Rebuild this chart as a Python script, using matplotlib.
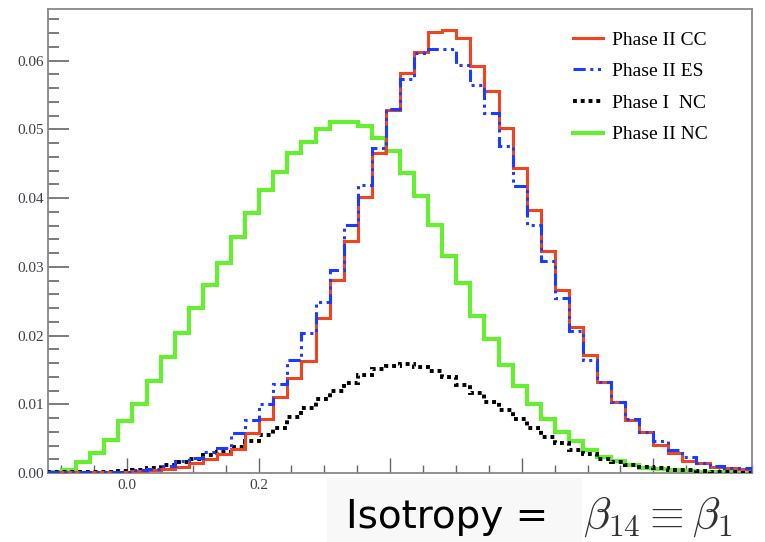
import numpy as np
import matplotlib
matplotlib.use("Agg")
import matplotlib.pyplot as plt
from matplotlib.patches import Rectangle
from matplotlib.ticker import MultipleLocator, FormatStrFormatter

# histogram binning (50 bins over the plotted range)
xmin, xmax, nbins = -0.12, 0.95, 50

# bin contents, left to right
phase2_cc = [0.0001, 0.0001, 0.0001, 0.0001, 0.0001, 0.0002, 0.0003, 0.0004, 0.0006, 0.0009,
             0.0014, 0.0021, 0.0028, 0.0035, 0.0058, 0.0078, 0.0110, 0.0138, 0.0163, 0.0225,
             0.0281, 0.0338, 0.0402, 0.0465, 0.0528, 0.0582, 0.0612, 0.0641, 0.0645, 0.0633,
             0.0592, 0.0555, 0.0502, 0.0444, 0.0383, 0.0323, 0.0266, 0.0212, 0.0172, 0.0133,
             0.0104, 0.0077, 0.0059, 0.0041, 0.0029, 0.0018, 0.0014, 0.0009, 0.0008, 0.0006]
phase2_es = [0.0001, 0.0001, 0.0001, 0.0001, 0.0001, 0.0002, 0.0004, 0.0006, 0.0010, 0.0017,
             0.0022, 0.0030, 0.0037, 0.0058, 0.0077, 0.0100, 0.0130, 0.0164, 0.0203, 0.0249,
             0.0295, 0.0361, 0.0419, 0.0473, 0.0529, 0.0573, 0.0611, 0.0617, 0.0617, 0.0594,
             0.0565, 0.0524, 0.0475, 0.0417, 0.0361, 0.0308, 0.0254, 0.0206, 0.0165, 0.0133,
             0.0104, 0.0079, 0.0060, 0.0046, 0.0033, 0.0024, 0.0015, 0.0010, 0.0008, 0.0007]
phase1_nc = [0.0001, 0.0001, 0.0001, 0.0002, 0.0002, 0.0003, 0.0004, 0.0007, 0.0011, 0.0016,
             0.0021, 0.0026, 0.0031, 0.0038, 0.0046, 0.0055, 0.0066, 0.0081, 0.0095, 0.0107,
             0.0120, 0.0131, 0.0143, 0.0151, 0.0156, 0.0158, 0.0154, 0.0149, 0.0140, 0.0128,
             0.0117, 0.0104, 0.0091, 0.0078, 0.0065, 0.0053, 0.0043, 0.0034, 0.0027, 0.0021,
             0.0016, 0.0012, 0.0009, 0.0007, 0.0005, 0.0004, 0.0003, 0.0002, 0.0002, 0.0001]
phase2_nc = [0.0002, 0.0004, 0.0016, 0.0029, 0.0048, 0.0075, 0.0101, 0.0134, 0.0169, 0.0203,
             0.0240, 0.0274, 0.0306, 0.0344, 0.0378, 0.0412, 0.0438, 0.0466, 0.0481, 0.0500,
             0.0510, 0.0510, 0.0505, 0.0487, 0.0468, 0.0436, 0.0403, 0.0361, 0.0315, 0.0277,
             0.0229, 0.0195, 0.0157, 0.0127, 0.0101, 0.0078, 0.0060, 0.0046, 0.0034, 0.0024,
             0.0017, 0.0012, 0.0008, 0.0006, 0.0004, 0.0003, 0.0002, 0.0002, 0.0001, 0.0001]

labels = ["Phase II CC", "Phase II ES", "Phase I  NC", "Phase II NC"]
yticks = [0.00, 0.01, 0.02, 0.03, 0.04, 0.05, 0.06]
xticks = [0.0, 0.2, 0.4, 0.6, 0.8]

plt.rcParams["mathtext.fontset"] = "cm"
serif = "Liberation Serif"

fig = plt.figure(figsize=(7.65, 5.42), dpi=100)
ax = fig.add_axes([48 / 765, 69 / 542, 704 / 765, 464 / 542])

edges = np.linspace(xmin, xmax, nbins + 1)

ax.stairs(phase2_nc, edges, color="#66ee33", lw=3.0, label=labels[3], zorder=2)
ax.stairs(phase1_nc, edges, color="black", lw=2.8, linestyle=(0, (1.0, 1.0)), label=labels[2], zorder=3)
ax.stairs(phase2_cc, edges, color="#ee4420", lw=2.2, label=labels[0], zorder=4)
ax.stairs(phase2_es, edges, color="#1a3cff", lw=2.2,
          linestyle=(0, (4, 1.5, 1, 1.5, 1, 1.5)), label=labels[1], zorder=5)

ax.set_xlim(xmin, xmax)
ax.set_ylim(0, 0.0675)

ax.set_yticks(yticks)
ax.set_xticks(xticks)
ax.yaxis.set_major_formatter(FormatStrFormatter("%.2f"))
ax.xaxis.set_major_formatter(FormatStrFormatter("%.1f"))
ax.yaxis.set_minor_locator(MultipleLocator(0.002))
ax.xaxis.set_minor_locator(MultipleLocator(0.05))

ax.tick_params(axis="y", which="major", direction="in", length=15, width=1.2, color="#666666", pad=3)
ax.tick_params(axis="y", which="minor", direction="in", length=8, width=1.2, color="#666666")
ax.tick_params(axis="x", which="major", direction="in", length=11, width=1.0, color="#666666", pad=4)
ax.tick_params(axis="x", which="minor", direction="in", length=6, width=1.0, color="#666666")
for lab in ax.get_xticklabels() + ax.get_yticklabels():
    lab.set_fontfamily(serif)
    lab.set_fontsize(11)
    lab.set_color("#3a3f4a")

for s in ax.spines.values():
    s.set_color("#888888")
    s.set_linewidth(1.3)

# legend in the fixed order of the original
h, l = ax.get_legend_handles_labels()
order = [labels.index(x) for x in l]
pairs = sorted(zip(order, h, l))
leg = ax.legend([p[1] for p in pairs], [p[2] for p in pairs],
                loc="upper left", bbox_to_anchor=(573 / 765, 1 - 31 / 542),
                bbox_transform=fig.transFigure, frameon=False, borderpad=0, borderaxespad=0,
                handlelength=1.55, handletextpad=0.45, labelspacing=0.72,
                prop={"family": serif, "size": 14})

# overlay boxes at the bottom
fig.add_artist(Rectangle((327 / 765, 0), 255 / 765, 64 / 542, transform=fig.transFigure,
                         facecolor="#f8f8f8", edgecolor="none", zorder=5))
fig.add_artist(Rectangle((582 / 765, 0), 183 / 765, 64 / 542, transform=fig.transFigure,
                         facecolor="#ffffff", edgecolor="none", zorder=5))
fig.text(346 / 765, 14 / 542, "Isotropy =", fontsize=28, family="DejaVu Sans",
         color="black", ha="left", va="baseline", zorder=6)
fig.text(583 / 765, 13 / 542, r"$\beta_{14} \equiv \beta_1$", fontsize=32,
         color="#333333", ha="left", va="baseline", zorder=6)

fig.savefig("out.png", dpi=100)
